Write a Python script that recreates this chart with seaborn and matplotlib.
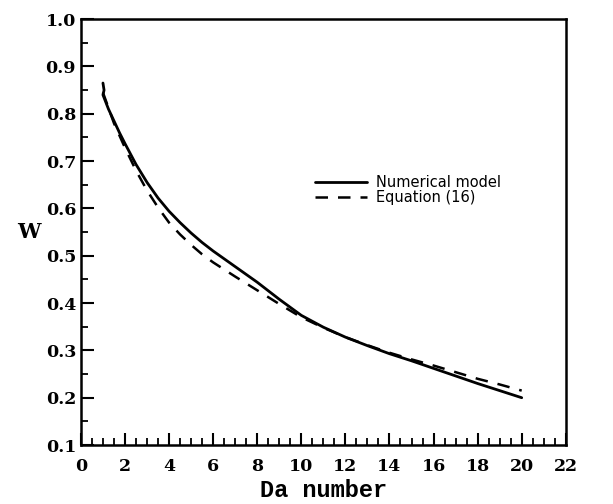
import numpy as np
import pandas as pd
import seaborn as sns
import matplotlib.pyplot as plt
from matplotlib.ticker import MultipleLocator

# numerical model
da_num = [1.0, 1.05, 1.0, 1.25, 1.5, 1.75, 2, 2.5, 3, 3.5, 4, 4.5, 5, 5.5,
          6, 7, 8, 9, 10, 11, 12, 13, 14, 15, 16, 17, 18, 19, 20]
w_num = [0.865, 0.85, 0.84, 0.81, 0.785, 0.76, 0.737, 0.693, 0.655, 0.622,
         0.594, 0.57, 0.548, 0.528, 0.51, 0.477, 0.444, 0.408, 0.374, 0.349,
         0.328, 0.31, 0.293, 0.278, 0.262, 0.246, 0.23, 0.215, 0.20]

# equation (16)
da_eq = [1.0, 1.5, 2, 2.5, 3, 3.5, 4, 4.5, 5, 5.5, 6, 7, 8, 9, 10, 11, 12,
         13, 14, 15, 16, 17, 18, 19, 20]
w_eq = [0.845, 0.78, 0.728, 0.68, 0.638, 0.602, 0.57, 0.545, 0.523, 0.503,
        0.486, 0.456, 0.427, 0.398, 0.37, 0.348, 0.328, 0.311, 0.295, 0.281,
        0.268, 0.254, 0.24, 0.228, 0.215]

x_ticks = list(range(0, 23, 2))
y_ticks = [round(0.1 * i, 1) for i in range(1, 11)]

sns.set_style("ticks")
plt.rcParams['font.family'] = ['DejaVu Serif']
plt.rcParams.update({"text.color": "black", "axes.labelcolor": "black",
                     "xtick.color": "black", "ytick.color": "black",
                     "axes.edgecolor": "black"})

fig = plt.figure(figsize=(6.13, 5.04), dpi=100)
ax = fig.add_axes([0.132, 0.117, 0.791, 0.845])

df_num = pd.DataFrame({"Da": da_num, "W": w_num})
df_eq = pd.DataFrame({"Da": da_eq, "W": w_eq})
sns.lineplot(data=df_num, x="Da", y="W", ax=ax, color="black", lw=2.0,
             sort=False, estimator=None, label="Numerical model")
sns.lineplot(data=df_eq, x="Da", y="W", ax=ax, color="black", lw=1.8,
             sort=False, estimator=None, label="Equation (16)",
             linestyle=(0, (5, 4)))

ax.set_xlim(0, 22)
ax.set_ylim(0.1, 1.0)
ax.set_xticks(x_ticks)
ax.set_yticks(y_ticks)
ax.xaxis.set_minor_locator(MultipleLocator(0.5))
ax.yaxis.set_minor_locator(MultipleLocator(0.05))
ax.tick_params(which="major", direction="in", length=9, width=1.5,
               labelsize=12.5, top=False, right=False)
ax.tick_params(axis="x", which="major", pad=9)
ax.tick_params(which="minor", direction="in", length=5, width=1.3,
               top=False, right=False)
ax.set_xticklabels([str(t) for t in x_ticks], fontweight="bold")
ax.set_yticklabels([f"{t:.1f}" for t in y_ticks], fontweight="bold")
for s in ax.spines.values():
    s.set_linewidth(1.8)

ax.set_xlabel("Da number", fontsize=17, fontweight="bold",
              family="Liberation Mono", labelpad=3)
ax.set_ylabel("W", fontsize=15, fontweight="bold", rotation=0,
              labelpad=12, va="center")

leg = ax.legend(loc="upper left", bbox_to_anchor=(0.455, 0.665), frameon=False,
                handlelength=3.6, handletextpad=0.6, labelspacing=0.0,
                prop={"family": "DejaVu Sans", "size": 10.5})

fig.savefig("out.png", dpi=100)
